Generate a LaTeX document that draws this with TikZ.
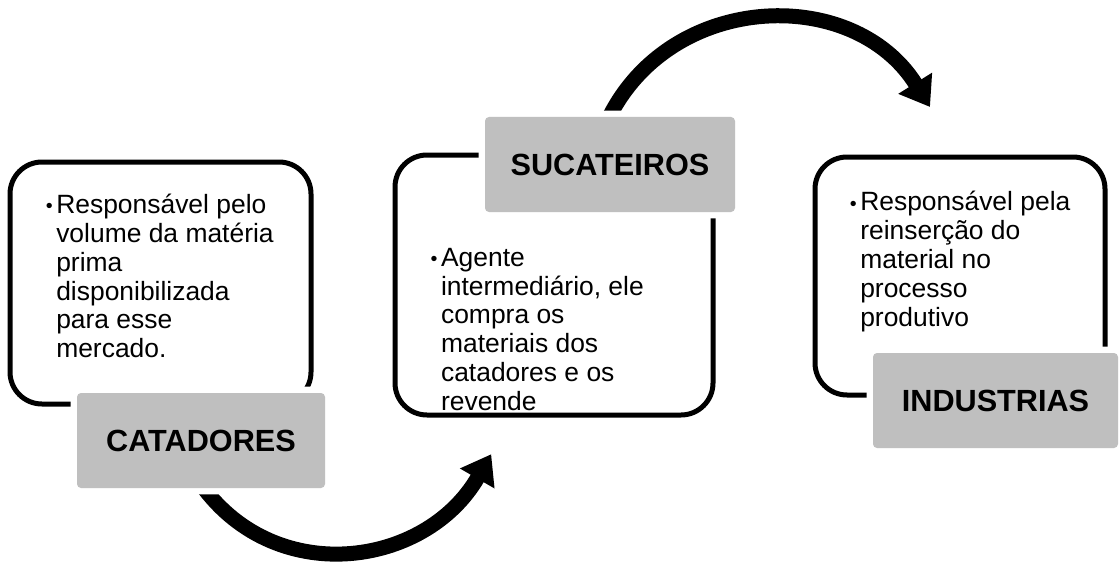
\documentclass[tikz,border=0pt]{standalone}
\usepackage{fontspec}
\setmainfont{Liberation Sans}
\usetikzlibrary{arrows.meta}
\definecolor{cinza}{HTML}{BFBFBF}
\newcommand{\marca}{\llap{\raisebox{0.5pt}{\fontsize{14pt}{14pt}\selectfont\textbullet}\hspace{2.5pt}}}
\begin{document}
\begin{tikzpicture}[
   caixa/.style={draw, line width=0.125cm, rounded corners=0.8cm, fill=white},
   rotulo/.style={fill=cinza, rounded corners=0.1cm, preaction={draw=white, line width=0.32cm}, font=\fontsize{21.8pt}{24pt}\selectfont\bfseries},
   texto/.style={anchor=north west, inner sep=0pt, align=left, font=\fontsize{18.8pt}{20.5pt}\selectfont},
   seta/.style={line width=0.375cm, -{Triangle[length=0.7cm, width=0.95cm]}}]
   \useasboundingbox (0,0) rectangle (28,14.075);
   \coordinate (s1a) at (4.95,2.075); \coordinate (s1b) at (12.28,2.72);
   \coordinate (s2a) at (15.135,10.95); \coordinate (s2b) at (23.25,11.4);
   \draw [seta] (s1a) to[out=-56,in=-120,looseness=1.15] (s1b);
   \draw [seta] (s2a) to[out=66,in=122,looseness=1.15] (s2b);
   \node (cat) [caixa, minimum width=7.525cm, minimum height=6.05cm] at (4.0125,7) {};
   \node (suc) [caixa, minimum width=7.95cm, minimum height=6.5cm] at (13.85,6.95) {};
   \node (ind) [caixa, minimum width=7.25cm, minimum height=5.95cm] at (24,7.175) {};
   \node (tcat) [texto] at (1.4,9.23) {\marca Responsável pelo\\volume da matéria\\prima\\disponibilizada\\para esse\\mercado.};
   \node (tsuc) [texto] at (11.02,7.88) {\marca Agente\\intermediário, ele\\compra os\\materiais dos\\catadores e os\\revende};
   \node (tind) [texto] at (21.5,9.3) {\marca Responsável pela\\reinserção do\\material no\\processo\\produtivo};
   \node (lcat) [rotulo, minimum width=6.2cm, minimum height=2.375cm] at (5.025,3.0625) {CATADORES};
   \node (lsuc) [rotulo, minimum width=6.25cm, minimum height=2.375cm] at (15.25,9.9625) {SUCATEIROS};
   \node (lind) [rotulo, minimum width=6.125cm, minimum height=2.375cm] at (24.8875,4.0625) {INDUSTRIAS};
\end{tikzpicture}
\end{document}
